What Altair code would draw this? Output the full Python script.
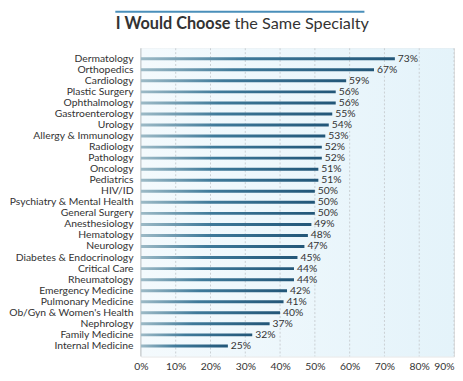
import altair as alt
import pandas as pd

categories = ["Dermatology", "Orthopedics", "Cardiology", "Plastic Surgery", "Ophthalmology",
              "Gastroenterology", "Urology", "Allergy & Immunology", "Radiology", "Pathology",
              "Oncology", "Pediatrics", "HIV/ID", "Psychiatry & Mental Health", "General Surgery",
              "Anesthesiology", "Hematology", "Neurology", "Diabetes & Endocrinology", "Critical Care",
              "Rheumatology", "Emergency Medicine", "Pulmonary Medicine", "Ob/Gyn & Women's Health",
              "Nephrology", "Family Medicine", "Internal Medicine"]
values = [73, 67, 59, 56, 56, 55, 54, 53, 52, 52, 51, 51, 50, 50, 50, 49, 48, 47, 45, 44, 44,
          42, 41, 40, 37, 32, 25]
x_ticks = [0, 10, 20, 30, 40, 50, 60, 70, 80, 90]
grid_ticks = [10, 20, 30, 40, 50, 60, 70, 80, 90]

W, H = 318, 313
FONT = "Lato"
TXT = "#333333"

df = pd.DataFrame({"cat": categories, "val": values})

xscale = alt.Scale(domain=[0, 90], nice=False)
yscale = alt.Scale(domain=categories, paddingOuter=0.45, paddingInner=0)

xaxis = alt.Axis(values=x_ticks, labelExpr="datum.value + '%'", title=None,
                 grid=False, domain=False, ticks=False, labelPadding=5,
                 labelFont=FONT, labelFontSize=10.5, labelColor=TXT,
                 labelFlush=False, labelOverlap=False,
                 labelAlign=alt.ExprRef(expr="datum.value == 90 ? 'right' : 'center'"))
yaxis = alt.Axis(title=None, domain=False, ticks=False, labelPadding=8,
                 labelFont=FONT, labelFontSize=10.5, labelColor=TXT)

bg = alt.Chart(alt.Data(values=[{}])).mark_rect(
    color=alt.Gradient(gradient="linear",
                       stops=[alt.GradientStop(color="#f4fafd", offset=0),
                              alt.GradientStop(color="#e4f3fa", offset=1)],
                       x1=0, x2=1, y1=0, y2=0)
).encode(x=alt.value(0), x2=alt.value(W), y=alt.value(0), y2=alt.value(H))

grid = alt.Chart(pd.DataFrame({"t": grid_ticks})).mark_rule(
    color="#c9ced2", strokeDash=[2, 2], strokeWidth=1
).encode(x=alt.X("t:Q", scale=xscale, axis=xaxis))

left_line = alt.Chart(alt.Data(values=[{}])).mark_rule(color="#b5b9bc", strokeWidth=1).encode(
    x=alt.value(0), y=alt.value(0), y2=alt.value(H))

bars = alt.Chart(df).mark_bar(
    size=3,
    color=alt.Gradient(gradient="linear",
                       stops=[alt.GradientStop(color="#9dbac6", offset=0),
                              alt.GradientStop(color="#3f7a9a", offset=0.4),
                              alt.GradientStop(color="#225678", offset=1)],
                       x1=0, x2=1, y1=0, y2=0)
).encode(
    x=alt.X("val:Q", scale=xscale, axis=xaxis),
    y=alt.Y("cat:N", scale=yscale, sort=categories, axis=yaxis),
)

labels = alt.Chart(df).mark_text(
    align="left", baseline="middle", dx=3, font=FONT, fontSize=10.5, color=TXT
).encode(
    x=alt.X("val:Q", scale=xscale, axis=xaxis),
    y=alt.Y("cat:N", scale=yscale, sort=categories, axis=yaxis),
    text=alt.Text("label:N"),
).transform_calculate(label="datum.val + '%'")

title_line = alt.Chart(alt.Data(values=[{}])).mark_rule(color="#4a8fba", strokeWidth=2).encode(
    x=alt.value(-26), x2=alt.value(227), y=alt.value(-37))

title_bold = alt.Chart(alt.Data(values=[{"t": "I Would Choose"}])).mark_text(
    align="right", baseline="middle", font=FONT, fontSize=16.5, fontWeight="bold", color=TXT
).encode(x=alt.value(91), y=alt.value(-25), text="t:N")

title_norm = alt.Chart(alt.Data(values=[{"t": "the Same Specialty"}])).mark_text(
    align="left", baseline="middle", font=FONT, fontSize=16.5, fontWeight="normal", color=TXT
).encode(x=alt.value(95), y=alt.value(-25), text="t:N")

chart = alt.layer(bg, grid, left_line, bars, labels, title_line, title_bold, title_norm).properties(
    width=W, height=H, padding=0
).configure_view(stroke=None).configure(background="white")

chart.save("out.html", embed_options={"renderer": "svg", "actions": False})
